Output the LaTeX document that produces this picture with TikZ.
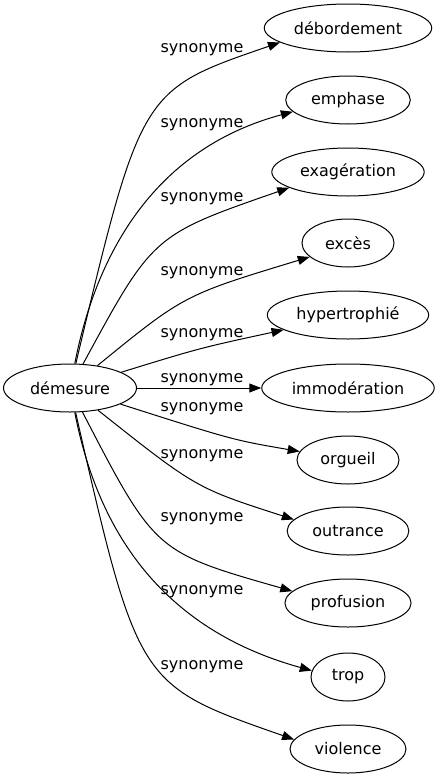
\documentclass[tikz,border=0pt]{standalone}
\usepackage{fontspec}
\setmainfont{DejaVu Sans}
\usetikzlibrary{arrows.meta,shapes.geometric}
\begin{document}
\begin{tikzpicture}[x=1pt,y=-1pt,
  every node/.style={font=\fontsize{16}{19}\selectfont},
  term/.style={draw, ellipse, line width=1pt, minimum height=48pt, inner sep=0pt},
  syn/.style={inner sep=0pt},
  edge/.style={line width=1pt, -{Triangle[length=12pt,width=9pt]}}]
\useasboundingbox (0,0) rectangle (441,779);
\node[term, minimum width=133pt] (dem) at (70,388) {démesure};
\node[term, minimum width=167.5pt] (n1) at (348,28) {débordement};
\node[term, minimum width=124.6pt] (n2) at (348,100) {emphase};
\node[term, minimum width=152.4pt] (n3) at (348,172) {exagération};
\node[term, minimum width=92pt] (n4) at (348,243) {excès};
\node[term, minimum width=161.3pt] (n5) at (348,315) {hypertrophié};
\node[term, minimum width=172.5pt] (n6) at (348,388) {immodération};
\node[term, minimum width=102pt] (n7) at (348,460) {orgueil};
\node[term, minimum width=121.7pt] (n8) at (348,531) {outrance};
\node[term, minimum width=126.2pt] (n9) at (348,603) {profusion};
\node[term, minimum width=74pt] (n10) at (348,677) {trop};
\node[term, minimum width=116pt] (n11) at (348,749) {violence};
\node[syn] (l1) at (202,50) {synonyme};
\node[syn] (l2) at (202,125) {synonyme};
\node[syn] (l3) at (202,199) {synonyme};
\node[syn] (l4) at (202,273) {synonyme};
\node[syn] (l5) at (202,335) {synonyme};
\node[syn] (l6) at (202,380) {synonyme};
\node[syn] (l7) at (202,409) {synonyme};
\node[syn] (l8) at (202,456) {synonyme};
\node[syn] (l9) at (202,519) {synonyme};
\node[syn] (l10) at (202,592) {synonyme};
\node[syn] (l11) at (202,667) {synonyme};
\draw[edge] (dem) .. controls (141,90) .. (n1.192.9);
\draw[edge] (dem) .. controls (95,260) and (150,150) .. (n2.192.5);
\draw[edge] (dem) .. controls (153,235) .. (n3.195.7);
\draw[edge] (dem) .. controls (184,295) .. (n4.200.8);
\draw[edge] (dem) .. controls (200,348) .. (n5.193.4);
\draw[edge] (dem) -- (n6);
\draw[edge] (dem) .. controls (233,440) .. (n7.170.6);
\draw[edge] (dem) .. controls (196,488) .. (n8.168.5);
\draw[edge] (dem) .. controls (155,552) .. (n9.168.9);
\draw[edge] (dem) .. controls (95,516) and (150,626) .. (n10.170.5);
\draw[edge] (dem) .. controls (138,685) .. (n11.170.5);
\end{tikzpicture}
\end{document}
